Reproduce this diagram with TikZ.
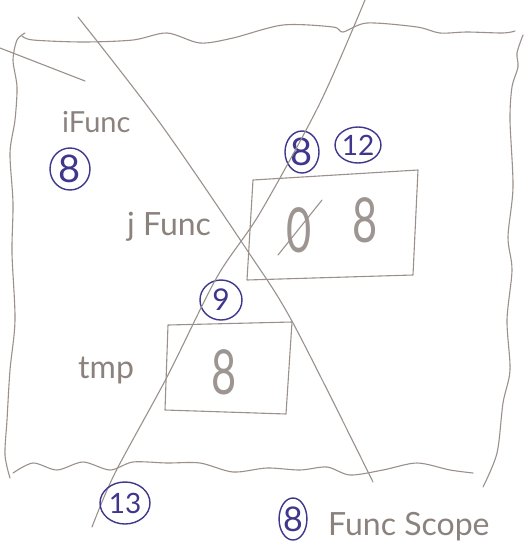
\documentclass[tikz,border=0pt]{standalone}
\usepackage{fontspec}
\setmainfont{Lato}
\newfontfamily\narrowdig[FakeStretch=0.7]{Lato}
\usetikzlibrary{shapes.geometric}
\definecolor{pencil}{RGB}{155,145,140}
\definecolor{pentext}{RGB}{140,130,125}
\definecolor{ink}{RGB}{62,55,140}
\tikzset{
  sketch/.style={draw=pencil, line width=1.1pt, line cap=round, line join=round},
  tag/.style={ellipse, draw=ink, line width=1.4pt, text=ink, inner sep=0pt},
  lbl/.style={text=pentext, inner sep=0pt, font=\fontsize{32}{32}\selectfont},
  digit/.style={text=pentext!85!white, inner sep=0pt, font=\narrowdig\fontsize{62}{62}\selectfont},
  bigtag/.style={font=\fontsize{38}{38}\selectfont},
  smalltag/.style={font=\fontsize{28}{28}\selectfont},
}
\begin{document}
\begin{tikzpicture}[x=1pt,y=-1pt]
\useasboundingbox (0,0) rectangle (532,547);
\fill[white] (0,0) rectangle (532,547);

% wavy frame (function scope)
\draw[sketch] plot[smooth] coordinates {(22,36) (33,40) (83,42) (133,40) (167,33) (200,43) (233,38) (283,25) (333,27) (343,32) (367,23) (417,27) (440,33) (467,32) (503,33) (515,31)};
\draw[sketch] plot[smooth] coordinates {(523,35) (517,53) (518,67) (512,87) (510,120) (513,187) (508,237) (512,270) (507,320) (510,370) (503,403) (497,453) (483,487)};
\draw[sketch] plot[smooth] coordinates {(25,33) (17,40) (13,60) (17,87) (15,120) (10,153) (13,203) (12,253) (15,320) (10,370) (7,420) (5,455) (10,478)};
\draw[sketch] plot[smooth] coordinates {(13,473) (33,463) (57,470) (83,462) (110,470) (133,462) (167,463) (200,463) (233,472) (267,468) (300,470) (327,467) (350,475) (383,470) (417,463) (450,470) (473,473)};

% short stroke at top left
\coordinate (s1) at (0,48);
\coordinate (s2) at (85,81);
\draw[sketch] (s1) -- (s2);

% labels
\node[lbl, font=\fontsize{29}{29}\selectfont, anchor=base west] (ifunc) at (62,132) {iFunc};
\node[tag, bigtag, minimum width=40pt, minimum height=42pt] (t8a) at (70,169) {8};

\node[lbl, anchor=base west] (jfunc) at (127,235) {j Func};
\node[tag, bigtag, minimum width=34pt, minimum height=42pt] (t8b) at (302,152) {8};
\node[tag, smalltag, minimum width=42pt, minimum height=36pt] (t12) at (358,145) {12};

% jFunc box
\coordinate (ja) at (253,180);
\coordinate (jb) at (418,170);
\coordinate (jc) at (413,275);
\coordinate (jd) at (247,280);
\draw[sketch] (ja) -- (jb) -- (jc) -- (jd) -- cycle;
\node[digit] (jold) at (299,230) {0};
\coordinate (sl1) at (278,255);
\coordinate (sl2) at (322,200);
\draw[sketch] (sl1) -- (sl2);
\node[digit] (jnew) at (365,220) {8};

\node[tag, font=\fontsize{30}{30}\selectfont, minimum width=42pt, minimum height=40pt] (t9) at (221,300) {9};

% tmp box
\coordinate (ta) at (168,325);
\coordinate (tb) at (292,322);
\coordinate (tc) at (286,414);
\coordinate (td) at (165,410);
\draw[sketch] (ta) -- (tb) -- (tc) -- (td) -- cycle;
\node[lbl, anchor=base west] (tmp) at (78,378) {tmp};
\node[digit] (tmpv) at (224,372) {8};

% crossing strokes
\coordinate (a1) at (78,17);
\coordinate (a5) at (373,482);
\draw[sketch] plot[smooth] coordinates {(a1) (160,123) (247,250) (293,323) (a5)};
\coordinate (b1) at (365,0);
\coordinate (b7) at (92,527);
\draw[sketch] plot[smooth] coordinates {(b1) (320,103) (260,213) (217,277) (167,377) (115,473) (b7)};

\node[tag, smalltag, minimum width=50pt, minimum height=42pt] (t13) at (125,503) {13};
\node[tag, font=\fontsize{34}{34}\selectfont, minimum width=26pt, minimum height=42pt] (t8c) at (293,519) {8};
\node[lbl, anchor=base west] (scope) at (328,535) {Func Scope};
\end{tikzpicture}
\end{document}
